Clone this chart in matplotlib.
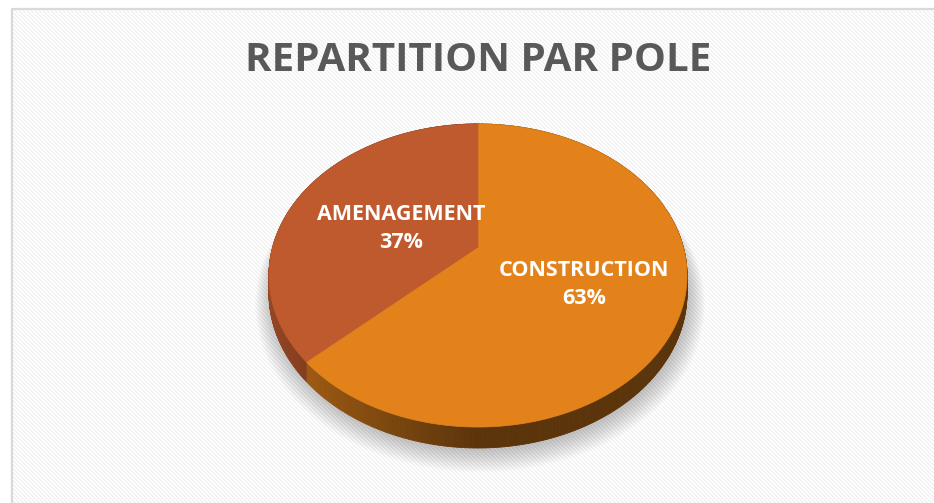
import numpy as np
import matplotlib.pyplot as plt
from matplotlib.patches import Polygon
from matplotlib.collections import PolyCollection
from matplotlib.colors import to_rgb

# data
labels = ['CONSTRUCTION', 'AMENAGEMENT']
shares = [63, 37]
colors = ['#E3821A', '#BE5A2E']
title = 'REPARTITION PAR POLE'

W, H = 934, 503
fig = plt.figure(figsize=(W / 100, H / 100), dpi=100)
ax = fig.add_axes([0, 0, 1, 1])
ax.set_xlim(0, W)
ax.set_ylim(H, 0)
ax.axis('off')

# background: fine diagonal weave inside the frame
yy, xx = np.mgrid[0:H, 0:W]
bg = np.where(((xx - yy) % 4) < 2, 0.95, 1.0)
bg[:9, :] = 1.0
bg[:, :12] = 1.0
ax.imshow(bg, cmap='gray', vmin=0, vmax=1, extent=[0, W, H, 0],
          interpolation='nearest', zorder=0)
ax.plot([12, 12, W], [H, 9, 9], color='#d9d9d9', lw=1.6, zorder=1)

# perspective pie geometry
cx, cy = 478, 247        # projected centre
A, B, k = 205.3, 146.2, 0.188
depth = 17


def proj(theta, r=1.0):
    # theta measured from the top, counter-clockwise on screen
    u = -np.sin(theta) * r
    v = -np.cos(theta) * r
    w = 1 - k * v
    return cx + A * u / w, cy + B * v / w, w


# soft shadow
tt = np.linspace(0, 2 * np.pi, 400)
for i in range(10):
    x, y, w = proj(tt, 1.0 + 0.008 * i)
    ax.fill(x + 2, y + depth / w + 3 + i * 0.5, color='black',
            alpha=0.022, lw=0, zorder=2)

fracs = np.array(shares) / sum(shares)
starts = 2 * np.pi - np.concatenate([[0], np.cumsum(fracs)[:-1]]) * 2 * np.pi
ends = starts - fracs * 2 * np.pi

# side wall with shading (lighter on the left, dark from the front on)
for s, e, c in zip(starts, ends, colors):
    base = np.array(to_rgb(c))
    t = np.linspace(s, e, 400)
    x, y, w = proj(t)
    yb = y + depth / w
    quads, fcs = [], []
    for i in range(len(t) - 1):
        quads.append([(x[i], y[i]), (x[i + 1], y[i + 1]),
                      (x[i + 1], yb[i + 1]), (x[i], yb[i])])
        u = -np.sin((t[i] + t[i + 1]) / 2)
        f = 0.40 + 0.40 * np.clip(-u, 0, 1)
        fcs.append(base * f)
    pc = PolyCollection(quads, facecolors=fcs, edgecolors=fcs, linewidths=0.6,
                        zorder=3)
    ax.add_collection(pc)

# top faces
for s, e, c in zip(starts, ends, colors):
    t = np.linspace(s, e, 300)
    x, y, w = proj(t)
    pts = np.column_stack([np.r_[cx, x], np.r_[cy, y]])
    ax.add_patch(Polygon(pts, closed=True, facecolor=c, edgecolor=c, lw=0.5,
                         zorder=4))

# labels
label_r = [0.54, 0.42]
for s, e, lab, p, r in zip(starts, ends, labels, shares, label_r):
    x, y, w = proj((s + e) / 2, r)
    ax.text(x, y + 5, f'{lab}\n{p}%', ha='center', va='center', color='white',
            fontsize=15.5, fontweight='bold', family='Open Sans',
            linespacing=1.45, zorder=5)

ax.text(478, 60, title, ha='center', va='center', color='#595959',
        fontsize=29, fontweight='bold', family='Open Sans', zorder=5)

fig.savefig('out.png', dpi=100)
